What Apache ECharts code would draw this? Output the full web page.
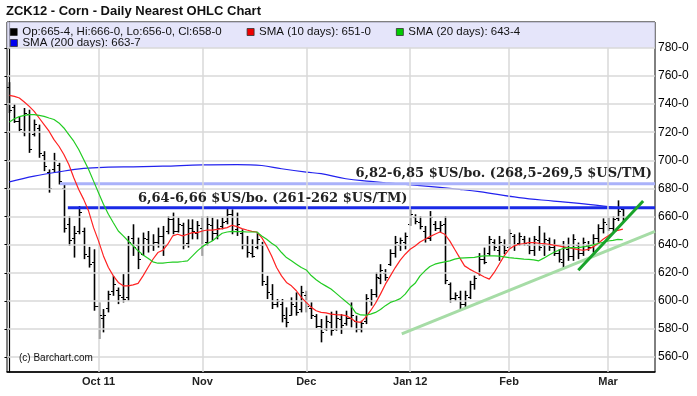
<!DOCTYPE html>
<html><head><meta charset="utf-8">
<script src="https://cdn.jsdelivr.net/npm/echarts@6/dist/echarts.min.js"></script>
<style>html,body{margin:0;padding:0;background:#fff}#c{width:697px;height:396px}</style>
</head><body><div id="c"></div>
<script>
const dates = [
'2011-09-07','2011-09-08','2011-09-09','2011-09-12','2011-09-13','2011-09-14','2011-09-15','2011-09-16','2011-09-19','2011-09-20','2011-09-21','2011-09-22','2011-09-23','2011-09-26','2011-09-27','2011-09-28','2011-09-29','2011-09-30',
'2011-10-03','2011-10-04','2011-10-05','2011-10-06','2011-10-07','2011-10-10','2011-10-11','2011-10-12','2011-10-13','2011-10-14','2011-10-17','2011-10-18','2011-10-19','2011-10-20','2011-10-21','2011-10-24','2011-10-25','2011-10-26','2011-10-27','2011-10-28','2011-10-31',
'2011-11-01','2011-11-02','2011-11-03','2011-11-04','2011-11-07','2011-11-08','2011-11-09','2011-11-10','2011-11-11','2011-11-14','2011-11-15','2011-11-16','2011-11-17','2011-11-18','2011-11-21','2011-11-22','2011-11-23','2011-11-25','2011-11-28','2011-11-29','2011-11-30',
'2011-12-01','2011-12-02','2011-12-05','2011-12-06','2011-12-07','2011-12-08','2011-12-09','2011-12-12','2011-12-13','2011-12-14','2011-12-15','2011-12-16','2011-12-19','2011-12-20','2011-12-21','2011-12-22','2011-12-23','2011-12-27','2011-12-28','2011-12-29','2011-12-30',
'2012-01-03','2012-01-04','2012-01-05','2012-01-06','2012-01-09','2012-01-10','2012-01-11','2012-01-12','2012-01-13','2012-01-17','2012-01-18','2012-01-19','2012-01-20','2012-01-23','2012-01-24','2012-01-25','2012-01-26','2012-01-27','2012-01-30','2012-01-31',
'2012-02-01','2012-02-02','2012-02-03','2012-02-06','2012-02-07','2012-02-08','2012-02-09','2012-02-10','2012-02-13','2012-02-14','2012-02-15','2012-02-16','2012-02-17','2012-02-21','2012-02-22','2012-02-23','2012-02-24','2012-02-27','2012-02-28','2012-02-29',
'2012-03-01','2012-03-02','2012-03-05','2012-03-06'];
const padDates = ['2012-03-07','2012-03-08','2012-03-09','2012-03-12','2012-03-13','2012-03-14'];

const opens = [752,738,728,720,733,719,723,704,692,694,
697,680,655,645,650,650,632,628,596,588,
595,607,608,603,603,645,640,633,644,640,
642,646,650,658,650,654,641,652,648,652,
642,654,648,653,657,662,651,648,640,634,
638,640,612,605,598,598,588,590,596,594,
604,595,589,582,580,585,580,587,584,588,
586,580,586,600,605,616,620,626,634,640,
642,655,660,656,650,645,655,652,655,612,
602,603,598,603,612,620,630,634,642,636,
640,638,646,641,644,640,636,643,640,643,
638,634,628,637,632,640,634,640,638,645,
652,655,652,659,665.5];
const highs = [755.6,740,731.3,737.2,736,729,725.4,706.5,693.5,705.3,
698.2,682.8,660.4,653.3,667.5,652.1,638.4,636.7,598.9,594.2,
607.2,617.8,609.5,619,646.2,654.5,645,648.6,649.7,647.4,
652.1,653.3,660.4,662.8,659.2,655.6,658,658,656.8,660.4,
660.4,659.2,658,659.2,666.3,665.1,662.8,650.9,646.2,643.8,
648.6,642,617.8,611.9,601.3,601.3,595.4,602.5,606,610.7,
607.2,598.9,590.6,587.1,589.5,592.3,593,590.6,593,598.9,
589.5,585.9,604.8,608.4,620.2,626.1,622.6,636.7,646.2,645,
648.6,665.1,661.6,660.4,653.3,663.9,656.8,656.8,660.4,613.1,
606,607.2,607.2,614.3,618,634,637.9,646.2,643.8,646.2,
643.8,650.9,647.4,648.6,646.2,645,646.2,653.3,648.6,645,
643.8,636.7,642.6,645,647.4,641.5,645,642.6,647.4,654.5,
658.7,659.2,660.4,671.5,666];
const lows = [733.6,726.6,720.7,717.1,705.3,717,701.8,692.3,677,691.1,
682.8,648.6,639.1,630.8,647.4,629.7,623.7,593,572.9,577.6,
591.8,603.6,597.7,598.9,600.1,632,622.6,632,634.4,635.6,
637.9,632,647.4,647.4,648.6,636.7,637.9,643.8,643.8,632,
639.1,642.6,643.8,650.9,654.5,647.4,646.2,636.7,630.8,630.8,
636.7,610.7,601.3,594.2,595.4,584.7,581.2,589.5,589.5,591.8,
591.8,587.1,580.7,570.5,578.8,575.3,578.8,576.5,582.4,581.2,
577.6,577.6,583.5,596.6,602.5,611.9,614.3,624.9,630.8,635.6,
636.7,653.3,654.5,650.9,641.5,642.6,649.7,648.6,611.9,598.9,
600,594.2,595.4,601.3,608,618,626.1,632,635.6,628.5,
633.2,637.9,635.6,639.1,639.1,633.2,632,635.6,632,635.6,
632,627.3,622.6,628.5,628.5,629.7,632,635.6,634.4,641.5,
648,649.7,648.6,656.8,656];
const closes = [736,728,722,734,708,726,705,696,680,700,
685,652,643,648,663,633,626,596,590,590,
605,612,604,601,642,638,630,645,640,642,
646,640,658,650,655,640,652,650,654,640,
655,648,652,656,662,650,655,640,635,632,
644,614,606,598,600,590,585,598,592,606,
596,590,582,578,586,579,588,583,588,590,
580,584,602,605,617,622,617,634,642,643,
646,662,657,653,645,660,652,654,615,602,
604,598,604,612,616,630,628,644,638,642,
636,648,640,646,641,636,644,638,644,638,
634,630,638,632,644,634,642,638,645,652,
656,652,658,664,658];

const sma10 = [746.2,745.5,744.3,741.5,738.4,734.8,730.1,725.4,720.7,714.7,
710,704.1,697,687.6,679.3,672.2,663.9,652.1,642.7,632,
623.7,617.8,613.1,610.7,610.7,611.4,612.4,617.8,623.7,629.6,
634.4,636,640.3,646.2,647.4,646.2,647.4,648.6,648.6,649.7,
650.4,650.4,650.9,651.4,652.1,653.8,652.8,651.4,650.4,649.5,
649,645,639.1,632,623.7,617.8,613.1,610.7,607.2,602.5,
598.9,595.4,593,591.8,591.5,590.6,590.2,590,589.5,587.6,
585.2,584.7,588.3,593,598.3,604.8,611.9,617.8,623.7,629,
633.2,636.7,639.1,641.9,643.8,645.7,647.4,649,647.4,642.7,
636.7,630.8,624.9,622.6,620.7,619,617,615.5,620.2,626.1,
632,636.7,639.1,640.3,640.8,641.5,641.5,641,640.8,640.3,
639.6,639.1,638.4,637.9,637.2,636.5,636,636.7,638.4,640.8,
643.8,646.2,648.6,650.2,651];
const sma20 = [727.3,729.6,731.1,732,732.5,732.5,732,731.3,730.1,729,
726.6,723,718.3,713.6,707.7,700.6,693.5,685.2,676.9,668.7,
661.6,655.6,649.7,646.2,642.6,639.1,635.6,632.7,630.4,627.8,
626.8,626.8,627.3,627.5,627.6,628,628.5,632,635.6,638.6,
640.8,642.6,645.5,648.1,649,649.5,649.3,649.3,649,649,
649,646.2,643.8,641,638.6,634.4,630.8,628.5,626.1,623.7,
622,618,615,612.5,610.5,608.4,605.5,602.5,599.5,596.6,
591.5,590,589.8,590.6,591.8,593.8,596.6,598.9,600.1,601.6,
604.8,609.5,612.5,617.8,621.4,624.4,626.1,627,627.8,628.5,
629.7,630.4,630.6,630.8,631,631.6,632,632,632,631.8,
631.3,630.8,630.4,630.1,629.7,629.5,629.2,628.5,630.4,632.5,
634.4,636,637.4,637.9,637.9,637.9,638.4,638.9,639.8,640.8,
641.7,642.6,643.1,643.8,643.5];
const sma200Idx = [0,5,10,15,20,25,31,39,46,51,55,60,63,68,73,76,83,91,95,103,110,117,124];
const sma200Val = [684.7,688.8,691.8,694.2,695.1,695.4,695.8,696.8,697,696.3,694,691.6,690.5,686.9,685,684,682,679.3,677.7,673.4,671,668.7,666];
const smaLegendValues = [651, 643.5, 663.875];

const yTicks = [560,580,600,620,640,660,680,700,720,740,760,780];
const tickMonths = ['2011-10','2011-11','2011-12','2012-01','2012-02','2012-03'];
const tickLabels = ['Oct 11','Nov','Dec','Jan 12','Feb','Mar'];

const levelValues = [683.3, 666.2];
const levelStarts = [10.2, 11.8];
const levelTexts = ['6,82-6,85 $US/bo. (268,5-269,5 $US/TM)', '6,64-6,66 $US/bo. (261-262 $US/TM)'];
const trendLight = [[79.3, 576.5], [130.5, 649.5]];
const trendDark = [[115, 621.8], [128.1, 671]];

const yMin = 549.4, yMax = 798.4;
const fmt8 = v => { const w = Math.floor(v); return w + '-' + Math.round((v - w) * 8); };
const last = dates.length - 1;
const xCats = dates.concat(padDates);
const xMax = xCats.length - 0.5;
const monthStarts = dates.map((d, i) => i).filter(i => i > 0 && dates[i].slice(0, 7) !== dates[i - 1].slice(0, 7));
const monthSet = new Set(monthStarts);

const nameOHLC = `Op:${fmt8(opens[last])}, Hi:${fmt8(highs[last])}, Lo:${fmt8(lows[last])}, Cl:${fmt8(closes[last])}`;
const name10 = `SMA (10 days): ${fmt8(smaLegendValues[0])}`;
const name20 = `SMA (20 days): ${fmt8(smaLegendValues[1])}`;
const name200 = `SMA (200 days): ${fmt8(smaLegendValues[2])}`;

const ohlcData = dates.map((d, i) => [i, opens[i], highs[i], lows[i], closes[i]]);

function renderOHLC(params, api) {
  const i = api.value(0);
  const pO = api.coord([i, api.value(1)]);
  const pH = api.coord([i, api.value(2)]);
  const pL = api.coord([i, api.value(3)]);
  const pC = api.coord([i, api.value(4)]);
  const x = Math.round(pH[0]) + 0.5;
  const t = 2.5;
  return { type: 'group', children: [
    { type: 'line', shape: { x1: x, y1: pH[1], x2: x, y2: pL[1] }, style: { stroke: '#000', lineWidth: 1.6 } },
    { type: 'line', shape: { x1: x - t, y1: Math.round(pO[1]) + 0.5, x2: x, y2: Math.round(pO[1]) + 0.5 }, style: { stroke: '#000', lineWidth: 1 } },
    { type: 'line', shape: { x1: x, y1: Math.round(pC[1]) + 0.5, x2: x + t, y2: Math.round(pC[1]) + 0.5 }, style: { stroke: '#000', lineWidth: 1 } }
  ]};
}

const chart = echarts.init(document.getElementById('c'), null, { renderer: 'canvas' });
const legendText = { fontSize: 11.5, color: '#111', fontFamily: 'Liberation Sans, Arial, sans-serif', lineHeight: 12 };
const gridTop = yTicks[yTicks.length - 1];
chart.setOption({
  animation: false,
  backgroundColor: '#fff',
  textStyle: { fontFamily: 'Liberation Sans, Arial, sans-serif' },
  grid: { left: 7, right: 42, top: 22, bottom: 24, show: true, borderColor: '#000', borderWidth: 1, backgroundColor: 'transparent' },
  legend: [
    { left: 10, top: 26, padding: 0, itemGap: 25, itemWidth: 7, itemHeight: 7, selectedMode: false, textStyle: legendText,
      data: [
        { name: nameOHLC, icon: 'rect', itemStyle: { color: '#000', borderColor: '#000', borderWidth: 0.5 } },
        { name: name10, icon: 'rect', itemStyle: { color: '#ee0000', borderColor: '#333', borderWidth: 0.8 } },
        { name: name20, icon: 'rect', itemStyle: { color: '#00cc00', borderColor: '#333', borderWidth: 0.8 } }
      ] },
    { left: 10, top: 37, padding: 0, itemWidth: 7, itemHeight: 7, selectedMode: false, textStyle: legendText,
      data: [ { name: name200, icon: 'rect', itemStyle: { color: '#0000ee', borderColor: '#333', borderWidth: 0.8 } } ] }
  ],
  xAxis: [
    { type: 'category', data: xCats, boundaryGap: true,
      axisLine: { show: true, lineStyle: { color: '#000', width: 1.5 } },
      axisTick: { show: false },
      splitLine: { show: false },
      axisLabel: { interval: (i) => monthSet.has(i), formatter: (v) => tickLabels[tickMonths.indexOf(v.slice(0, 7))] || '',
        fontSize: 11, fontWeight: 'bold', color: '#222', margin: 4, hideOverlap: false } },
    { type: 'value', min: -0.5, max: xMax, show: false }
  ],
  yAxis: [{
    type: 'value', position: 'right', min: yMin, max: yMax, scale: true,
    axisLine: { show: true, lineStyle: { color: '#000', width: 1.2 } },
    axisTick: { show: true, inside: true, length: 5, customValues: yTicks, lineStyle: { color: '#000' } },
    axisLabel: { customValues: yTicks, formatter: (v) => fmt8(v), fontSize: 12, color: '#000', margin: 3 },
    splitLine: { show: false }
  }],
  graphic: [
    { type: 'rect', z: 3, silent: true, shape: { x: 7, y: 22, width: 648, height: 26 }, style: { fill: 'rgba(219,219,248,0.72)' } },
    { type: 'text', z: 10, x: 6, y: 11, style: { text: 'ZCK12 - Corn - Daily Nearest OHLC Chart', font: 'bold 13px "Liberation Sans", Arial, sans-serif', fill: '#111', verticalAlign: 'middle' } },
    { type: 'text', z: 10, x: 19, y: 358, style: { text: '(c) Barchart.com', font: '10px "Liberation Sans", Arial, sans-serif', fill: '#111', verticalAlign: 'middle' } },
    { type: 'text', z: 10, x: 652, y: 174, style: { text: levelTexts[0], font: 'bold 13px "DejaVu Serif", serif', fill: '#222', align: 'right', verticalAlign: 'middle' } },
    { type: 'text', z: 10, x: 138, y: 199, style: { text: levelTexts[1], font: 'bold 13px "DejaVu Serif", serif', fill: '#222', verticalAlign: 'middle' } }
  ],
  series: [
    { name: 'grid', type: 'line', data: [], silent: true, z: 1,
      markLine: { symbol: 'none', silent: true, animation: false, label: { show: false }, emphasis: { disabled: true },
        lineStyle: { color: '#d8d8d8', width: 1.5, type: 'solid' },
        data: yTicks.map(v => ({ yAxis: v })).concat(monthStarts.map(i => [{ coord: [i, yMin] }, { coord: [i, gridTop] }])) } },
    { name: name200, type: 'line', xAxisIndex: 1, z: 4, smooth: 0.4, showSymbol: false, silent: true,
      data: sma200Idx.map((x, i) => [x, sma200Val[i]]),
      lineStyle: { color: '#2222ee', width: 1.2 }, itemStyle: { color: '#0000ee' } },
    { name: 'level0', type: 'line', xAxisIndex: 1, z: 4, showSymbol: false, silent: true,
      data: [[levelStarts[0], levelValues[0]], [xMax, levelValues[0]]],
      lineStyle: { color: '#aab2fa', width: 3 } },
    { name: 'level1', type: 'line', xAxisIndex: 1, z: 4, showSymbol: false, silent: true,
      data: [[levelStarts[1], levelValues[1]], [xMax, levelValues[1]]],
      lineStyle: { color: '#1a2ae6', width: 3 } },
    { name: nameOHLC, type: 'custom', z: 3, renderItem: renderOHLC, data: ohlcData, silent: true,
      encode: { x: 0, y: [1, 2, 3, 4] }, itemStyle: { color: '#000' },
      markLine: { symbol: 'none', silent: true, animation: false, lineStyle: { opacity: 0 },
        data: [{ yAxis: closes[last] }],
        label: { show: true, position: 'end', distance: 2, formatter: fmt8(closes[last]), color: '#fff', backgroundColor: '#000',
          fontSize: 12, lineHeight: 11, padding: [0, 1, 0, 1] } } },
    { name: name10, type: 'line', z: 5, data: sma10, showSymbol: false, silent: true,
      lineStyle: { color: '#ff2222', width: 1.2 }, itemStyle: { color: '#ee0000' } },
    { name: name20, type: 'line', z: 5, data: sma20, showSymbol: false, silent: true,
      lineStyle: { color: '#22cc22', width: 1.2 }, itemStyle: { color: '#00cc00' } },
    { name: 'trendLight', type: 'line', xAxisIndex: 1, z: 5, showSymbol: false, silent: true,
      data: trendLight, lineStyle: { color: '#a6dca6', width: 3 } },
    { name: 'trendDark', type: 'line', xAxisIndex: 1, z: 6, showSymbol: false, silent: true,
      data: trendDark, lineStyle: { color: '#19a32a', width: 3 } }
  ]
});
</script>
</body></html>
